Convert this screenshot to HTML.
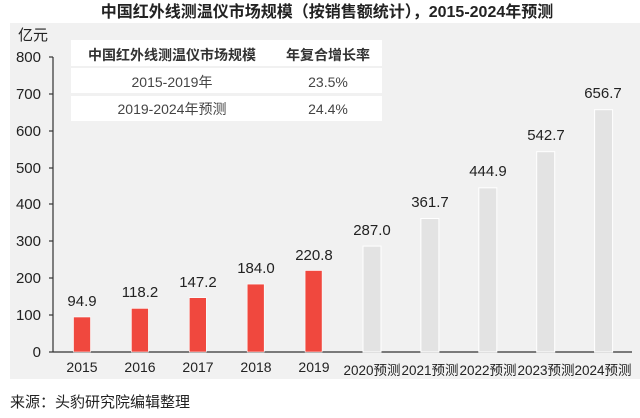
<!DOCTYPE html>
<html><head><meta charset="utf-8"><style>
body{margin:0;background:#fff;}
text{font-family:"Liberation Sans","Noto Sans CJK SC",sans-serif;}
</style></head><body>
<svg width="640" height="413" xmlns="http://www.w3.org/2000/svg">
<text x="327" y="17" font-size="16" font-weight="bold" text-anchor="middle" fill="#222">中国红外线测温仪市场规模（按销售额统计），2015-2024年预测</text>
<rect x="10" y="23" width="630" height="356" fill="#f1f1f1"/>
<text x="18" y="40" font-size="15" fill="#222">亿元</text>
<g font-size="15" fill="#222" text-anchor="end">
<text x="41" y="62">800</text><text x="41" y="99">700</text><text x="41" y="136">600</text>
<text x="41" y="173">500</text><text x="41" y="209">400</text><text x="41" y="246">300</text>
<text x="41" y="283">200</text><text x="41" y="320">100</text><text x="41" y="357">0</text>
</g>
<g stroke="#333" stroke-width="1.2">
<line x1="53" y1="57" x2="53" y2="352"/>
<line x1="53" y1="352" x2="632" y2="352"/>
<line x1="49" y1="57" x2="53" y2="57"/><line x1="49" y1="94" x2="53" y2="94"/>
<line x1="49" y1="131" x2="53" y2="131"/><line x1="49" y1="168" x2="53" y2="168"/>
<line x1="49" y1="204" x2="53" y2="204"/><line x1="49" y1="241" x2="53" y2="241"/>
<line x1="49" y1="278" x2="53" y2="278"/><line x1="49" y1="315" x2="53" y2="315"/>
<line x1="49" y1="352" x2="53" y2="352"/>
</g>
<g fill="#f0483e" stroke="#fff" stroke-width="0.6">
<rect x="73.5" y="317" width="17" height="35"/>
<rect x="131.4" y="308.4" width="17" height="43.6"/>
<rect x="189.3" y="297.7" width="17" height="54.3"/>
<rect x="247.2" y="284.1" width="17" height="67.9"/>
<rect x="305.1" y="270.5" width="17" height="81.5"/>
</g>
<g fill="#e3e3e3" stroke="#fff" stroke-width="1">
<rect x="363" y="246.1" width="18" height="105.9"/>
<rect x="420.9" y="218.5" width="18" height="133.5"/>
<rect x="478.8" y="187.8" width="18" height="164.2"/>
<rect x="536.7" y="151.7" width="18" height="200.3"/>
<rect x="594.6" y="109.7" width="18" height="242.3"/>
</g>
<g font-size="15" fill="#222" text-anchor="middle">
<text x="82" y="306">94.9</text><text x="140" y="297">118.2</text><text x="198" y="287">147.2</text>
<text x="256" y="273">184.0</text><text x="314" y="260">220.8</text>
<text x="372" y="235">287.0</text><text x="430" y="207">361.7</text><text x="488" y="176">444.9</text>
<text x="546" y="140">542.7</text><text x="603" y="98">656.7</text>
</g>
<g font-size="14" fill="#222" text-anchor="middle">
<text x="82" y="372">2015</text><text x="140" y="372">2016</text><text x="198" y="372">2017</text>
<text x="256" y="372">2018</text><text x="314" y="372">2019</text>
<text x="372" y="375" font-size="13.5">2020预测</text><text x="430" y="375" font-size="13.5">2021预测</text><text x="488" y="375" font-size="13.5">2022预测</text>
<text x="546" y="375" font-size="13.5">2023预测</text><text x="603" y="375" font-size="13.5">2024预测</text>
</g>
<rect x="71" y="40" width="311" height="26" fill="#fff"/>
<rect x="71" y="68" width="311" height="25" fill="#fff"/>
<rect x="71" y="96" width="311" height="25" fill="#fff"/>
<g font-size="14" text-anchor="middle">
<text x="172" y="60" fill="#333" font-weight="bold">中国红外线测温仪市场规模</text>
<text x="328" y="60" fill="#333" font-weight="bold">年复合增长率</text>
<text x="172" y="87" fill="#444">2015-2019年</text>
<text x="328" y="87" fill="#444">23.5%</text>
<text x="172" y="114" fill="#444">2019-2024年预测</text>
<text x="328" y="114" fill="#444">24.4%</text>
</g>
<text x="10" y="407" font-size="15" fill="#222">来源：头豹研究院编辑整理</text>
</svg>
</body></html>
